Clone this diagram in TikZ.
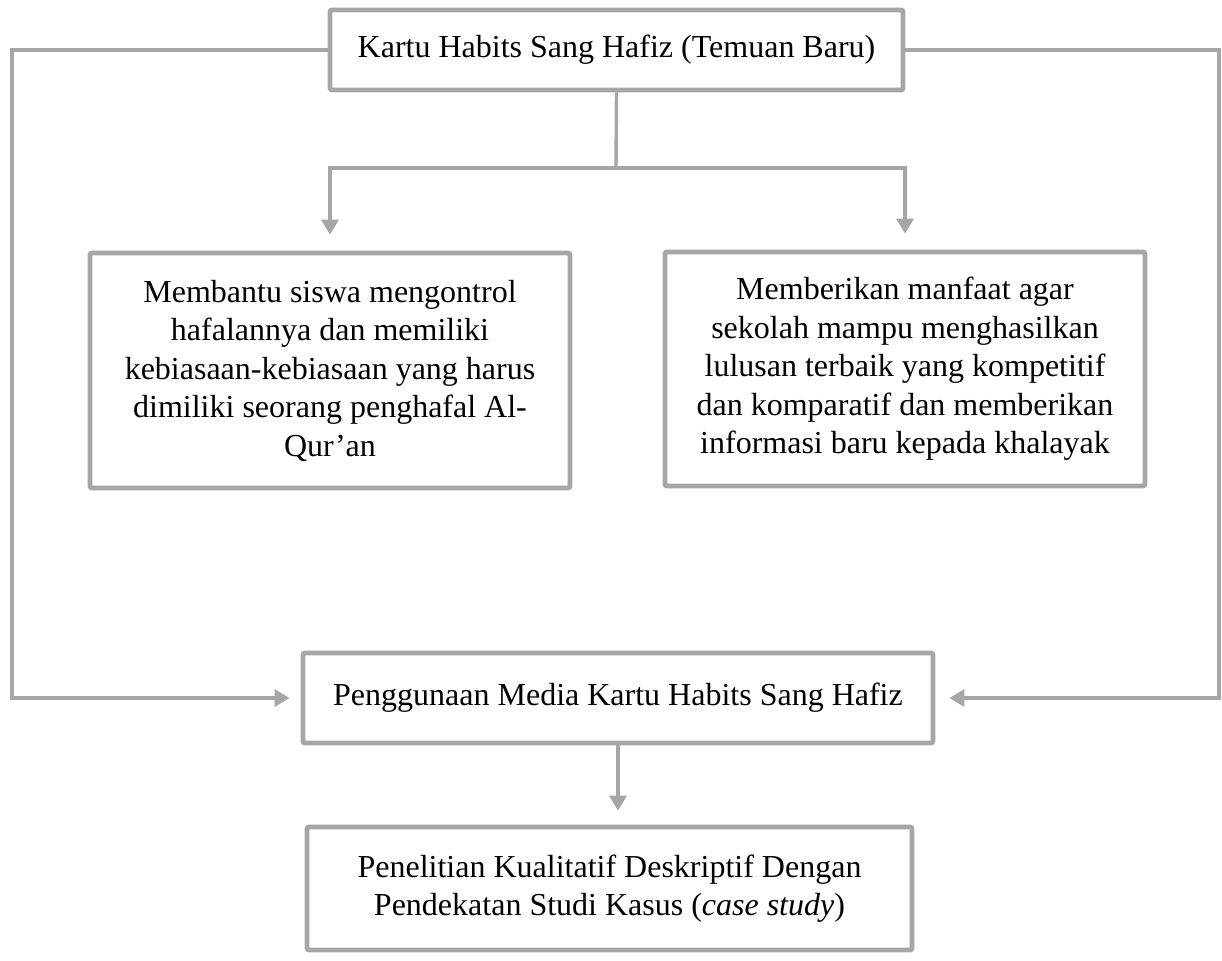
\documentclass[tikz,border=0pt]{standalone}
\usepackage{fontspec}
\setmainfont{Liberation Serif}
\usepackage{xcolor}
\usetikzlibrary{arrows.meta, positioning}
\definecolor{abu}{HTML}{A6A6A6}

\begin{document}
\begin{tikzpicture}[x=0.5pt, y=-0.5pt,
    kotak/.style={rectangle, rounded corners=1pt, draw=abu, line width=2.4pt,
                  align=center, inner sep=0pt,
                  font=\fontsize{16}{19.25}\selectfont},
    garis/.style={abu, line width=1.7pt},
    panah/.style={garis, -{Triangle[length=7.5pt, width=8.5pt]}}]

    \path[use as bounding box, fill=white] (0,0) rectangle (1222,960);

    \node[kotak, minimum width=286.5pt, minimum height=40pt] (kartu) at (616.5,50)
        {Kartu Habits Sang Hafiz (Temuan Baru)};
    \node[kotak, minimum width=240pt, minimum height=117.5pt] (bantu) at (330,370.5)
        {Membantu siswa mengontrol\\hafalannya dan memiliki\\kebiasaan-kebiasaan yang harus\\dimiliki seorang penghafal Al-\\Qur’an};
    \node[kotak, minimum width=240pt, minimum height=117pt] (manfaat) at (905,369)
        {Memberikan manfaat agar\\sekolah mampu menghasilkan\\lulusan terbaik yang kompetitif\\dan komparatif dan memberikan\\informasi baru kepada khalayak};
    \node[kotak, minimum width=315pt, minimum height=45pt] (guna) at (618,698)
        {Penggunaan Media Kartu Habits Sang Hafiz};
    \node[kotak, minimum width=302.5pt, minimum height=61.5pt] (teliti) at (609.5,888.5)
        {Penelitian Kualitatif Deskriptif Dengan\\Pendekatan Studi Kasus (\textit{case study})};

    % titik belok
    \coordinate (cabang) at (616,168);
    \coordinate (tepiKiri) at (12,698);
    \coordinate (tepiKanan) at (1219,698);

    \draw[garis] (kartu.south) -- (cabang);
    \draw[panah, shorten >=8pt] (cabang) -| (bantu.north);
    \draw[panah, shorten >=8pt] (cabang) -| (manfaat.north);
    \draw[panah, shorten >=5.5pt] (kartu.west) -| (tepiKiri) -- (guna.west);
    \draw[panah, shorten >=7pt] (kartu.east) -| (tepiKanan) -- (guna.east);
    \draw[panah, shorten >=7pt] (guna.south) -- (guna.south |- teliti.north);
\end{tikzpicture}
\end{document}
